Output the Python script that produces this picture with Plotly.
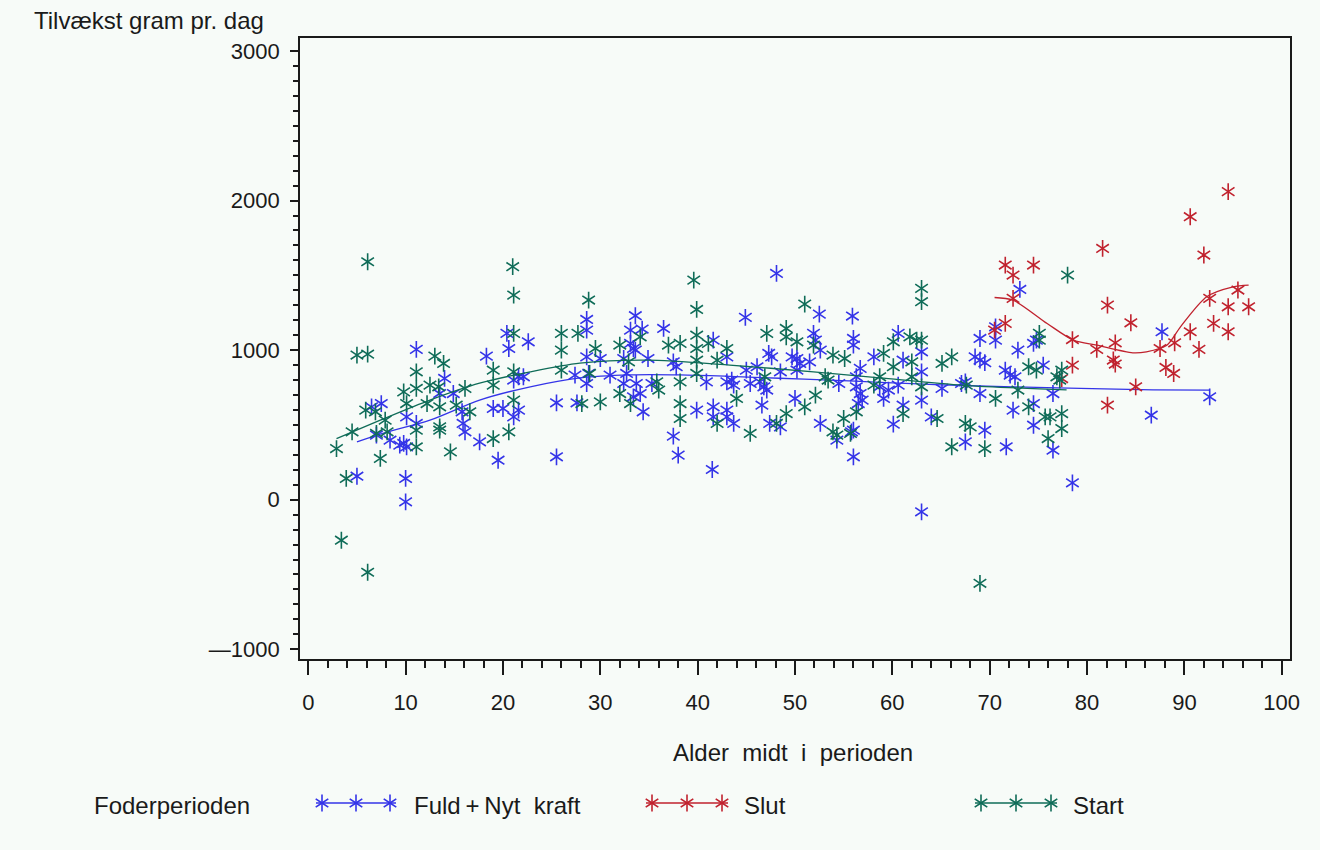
import plotly.graph_objects as go

# ---------------------------------------------------------------------------
# Data: age at mid-period (days) vs. daily weight gain (gram/day), per feed period
# ---------------------------------------------------------------------------
fuld_alder = [
    5.0, 11.1, 10.0, 10.0, 6.5, 7.5, 7.0, 8.4, 9.4, 9.8, 10.1, 10.1, 11.1, 14.0, 13.5,
    14.9, 15.8, 15.9, 16.1, 17.6, 19.5, 18.3, 19.0, 20.0, 21.1, 21.6, 20.6, 20.4, 22.6,
    21.1, 21.6, 22.1, 25.5, 25.5, 27.6, 27.4,
    48.1, 44.9, 52.5, 55.9, 56.0, 56.0, 33.6, 28.6, 28.6, 33.1, 34.3, 36.5, 33.1, 33.4,
    33.6, 32.4, 32.7, 28.6, 28.8, 28.6, 30.0, 31.0, 34.9, 37.5, 37.8, 41.6, 43.0, 43.5,
    45.0, 46.1, 46.4, 46.8, 47.1, 47.3, 47.6, 49.7, 50.2, 50.5, 51.9, 52.1, 52.6, 51.5,
    50.2, 48.5, 45.4, 43.0, 43.7, 40.9, 33.7, 34.1, 33.4, 32.4, 35.3, 34.4, 37.5, 38.0,
    41.5, 39.9, 41.6, 41.6, 43.0, 43.0, 43.7, 46.6, 47.4, 48.5, 50.0, 52.6, 54.5, 56.3,
    56.3, 56.7, 56.9, 56.5, 56.0, 55.8, 56.0, 54.3, 58.1, 56.7,
    73.1, 70.6, 70.6, 69.0, 72.9, 74.5, 74.8, 68.5, 69.0, 69.5, 71.6, 72.1, 72.6, 75.5,
    60.6, 63.0, 63.0, 61.1, 58.7, 59.6, 60.6, 59.1, 61.1, 63.0, 65.1, 67.5, 67.1, 69.0,
    60.1, 64.0, 67.5, 69.5, 71.7, 72.4, 74.5, 74.5, 76.5, 76.5, 78.5, 63.0, 87.7, 86.6,
    92.6,
]
fuld_tilvaekst = [
    157, 1005, 142, -14, 621, 643, 432, 398, 365, 376, 353, 554, 510, 811, 710,
    710, 588, 510, 454, 387, 264, 960, 610, 610, 554, 599, 1011, 1112, 1056,
    800, 822, 822, 648, 287, 648, 833,
    1513, 1219, 1241, 1228, 1078, 1034, 1230, 1205, 1134, 1134, 1141, 1145, 1045, 1011,
    1000, 944, 844, 955, 844, 777, 944, 833, 944, 922, 889, 1067, 955, 800,
    866, 889, 788, 755, 733, 978, 955, 955, 944, 911, 1112, 1067, 1000, 922,
    866, 855, 777, 788, 766, 788, 777, 710, 688, 777, 777, 588, 425, 298,
    202, 599, 621, 554, 599, 554, 510, 632, 510, 487, 677, 510, 777, 822,
    755, 710, 666, 643, 465, 454, 287, 398, 955, 878,
    1406, 1156, 1067, 1078, 1000, 1045, 1067, 955, 933, 916, 866, 833, 822, 900,
    1112, 989, 855, 933, 755, 733, 766, 677, 632, 666, 744, 788, 777, 710,
    505, 554, 387, 465, 354, 599, 643, 498, 710, 331, 113, -81, 1123, 565,
    688,
]

slut_alder = [
    94.5, 90.6, 81.6, 92.0, 71.6, 74.5, 72.4, 72.4, 71.6, 70.5, 82.1, 84.5, 78.5, 78.5,
    81.0, 82.9, 82.7, 82.9, 82.1, 85.0, 87.5, 88.1, 88.9, 89.0, 90.6, 91.5, 92.6, 93.0,
    94.5, 94.5, 95.5, 96.6, 77.4,
]
slut_tilvaekst = [
    2060, 1892, 1680, 1636, 1569, 1569, 1502, 1346, 1179, 1134, 1301, 1183, 1071, 900,
    1005, 1049, 934, 907, 632, 755, 1011, 884, 844, 1049, 1123, 1005, 1346, 1179,
    1290, 1123, 1402, 1290, 810,
]

start_alder = [
    6.1, 5.0, 6.1, 2.9, 3.9, 7.4, 4.5, 5.9, 6.9, 7.9, 7.0, 8.1, 11.1, 11.1, 11.1,
    11.1, 9.8, 10.1, 12.2, 12.5, 13.0, 13.9, 13.4, 13.5, 13.5, 13.5, 14.6, 15.2, 16.1,
    16.6, 19.0, 19.0, 19.0, 20.6, 21.1, 21.1, 21.0, 21.1, 21.1, 26.0, 26.0, 26.0, 27.7,
    3.4, 6.1,
    28.8, 39.6, 39.9, 51.0, 47.1, 49.1, 49.1, 50.2, 51.9, 29.5, 32.0, 34.1, 37.0, 38.2,
    39.9, 39.9, 39.9, 39.9, 41.1, 43.0, 42.0, 44.0, 45.4, 42.0, 38.2, 38.2, 33.1, 32.0,
    30.0, 28.1, 36.0, 35.8, 38.2, 32.9, 28.9, 46.9, 49.1, 48.1, 51.0, 52.1, 53.9, 55.1,
    53.1, 53.4, 55.0, 53.9, 54.3, 55.7, 56.3, 58.1,
    63.0, 63.0, 78.0, 75.1, 75.1, 59.1, 60.1, 61.8, 62.5, 63.0, 62.0, 65.1, 66.1, 60.1,
    58.7, 62.0, 63.0, 67.6, 70.6, 72.9, 74.0, 74.8, 76.9, 77.4, 77.2, 61.1, 64.6, 67.5,
    68.0, 66.1, 69.5, 74.0, 75.7, 76.2, 77.4, 77.4, 76.0, 69.0,
]
start_tilvaekst = [
    1591, 967, 973, 342, 142, 276, 454, 599, 588, 532, 443, 454, 855, 744, 465,
    353, 721, 643, 643, 766, 960, 911, 755, 621, 487, 465, 320, 632, 744,
    588, 866, 766, 409, 454, 1112, 1368, 1558, 855, 666, 1112, 1000, 866, 1112,
    -271, -485,
    1335, 1468, 1272, 1308, 1112, 1145, 1089, 1056, 1034, 1011, 1034, 1089, 1034, 1045,
    1100, 1011, 933, 844, 1045, 1011, 933, 677, 443, 510, 643, 543, 643, 710,
    654, 643, 733, 788, 788, 922, 844, 822, 576, 510, 621, 699, 967, 944,
    822, 800, 543, 454, 432, 443, 588, 766,
    1413, 1324, 1502, 1112, 1067, 978, 1056, 1089, 1067, 1067, 922, 911, 955, 889,
    822, 822, 755, 766, 677, 733, 889, 866, 822, 866, 800, 576, 543, 510,
    487, 354, 342, 621, 554, 554, 576, 476, 409, -559,
]

# Smoothed trend per feed period
fuld_glat_x = [5.0, 8.0, 12.5, 17.6, 22.8, 27.9, 33.0, 38.2, 43.3, 48.4, 53.5, 58.7,
               65.0, 72.4, 79.3, 86.8, 92.6]
fuld_glat_y = [387, 450, 532, 666, 755, 815, 835, 835, 825, 812, 800, 785,
               768, 755, 745, 735, 733]
slut_glat_x = [70.5, 72.4, 75.9, 78.6, 81.0, 84.7, 86.1, 88.2, 89.6, 92.3, 95.0, 96.6]
slut_glat_y = [1352, 1334, 1178, 1067, 1033, 982, 989, 1033, 1156, 1357, 1423, 1435]
start_glat_x = [2.9, 7.4, 12.5, 17.6, 22.8, 27.9, 34.8, 43.3, 51.9, 58.7, 67.3, 77.9]
start_glat_y = [409, 532, 666, 779, 855, 913, 933, 900, 855, 815, 765, 735]

gruppe_navne = ["Fuld+Nyt kraft", "Slut", "Start"]
gruppe_etiketter = {"Fuld+Nyt kraft": "Fuld\u2009+\u2009Nyt\u00a0 kraft", "Slut": "Slut", "Start": "Start"}
x_ticks = [0, 10, 20, 30, 40, 50, 60, 70, 80, 90, 100]
y_ticks = [-1000, 0, 1000, 2000, 3000]
y_ticktext = ["\u20141000", "0", "1000", "2000", "3000"]

# ---------------------------------------------------------------------------
# Styling
# ---------------------------------------------------------------------------
W, H = 1320, 850
BG = "#f7fbf8"
INK = "#1a1a1a"
FONT = "Liberation Sans"
FARVER = {"Fuld+Nyt kraft": "#3434e8", "Slut": "#c0222e", "Start": "#0f6c58"}
STAR_SIZE = 10.5
STAR_W = 1.6
TXT = 24

# plot frame in pixels (left, right, top, bottom)
PL, PR, PT, PB = 300, 1290, 38, 659

fig = go.Figure()


def add_group(x, y, gx, gy, color):
    # six-armed asterisk built from two three-armed symbols
    for sym in ("y-up-open", "y-down-open"):
        fig.add_trace(go.Scatter(
            x=x, y=y, mode="markers", showlegend=False, hoverinfo="skip",
            marker=dict(symbol=sym, size=STAR_SIZE, color=color,
                        line=dict(width=STAR_W, color=color)),
        ))
    fig.add_trace(go.Scatter(
        x=gx, y=gy, mode="lines", showlegend=False, hoverinfo="skip",
        line=dict(color=color, width=1.3, shape="spline", smoothing=0.8),
    ))


add_group(fuld_alder, fuld_tilvaekst, fuld_glat_x, fuld_glat_y, FARVER["Fuld+Nyt kraft"])
add_group(slut_alder, slut_tilvaekst, slut_glat_x, slut_glat_y, FARVER["Slut"])
add_group(start_alder, start_tilvaekst, start_glat_x, start_glat_y, FARVER["Start"])

# ---------------------------------------------------------------------------
# Legend row drawn on a full-figure pixel overlay (x2/y2)
# ---------------------------------------------------------------------------
LEG_Y = 803
LEG_KEYS = {"Fuld+Nyt kraft": (316, 396), "Slut": (646, 728), "Start": (975, 1057)}
LEG_TEXT_X = {"Fuld+Nyt kraft": 412, "Slut": 742, "Start": 1071}

for navn in gruppe_navne:
    x0, x1 = LEG_KEYS[navn]
    c = FARVER[navn]
    fig.add_trace(go.Scatter(
        x=[x0, x1], y=[LEG_Y, LEG_Y], xaxis="x2", yaxis="y2", mode="lines",
        showlegend=False, hoverinfo="skip", line=dict(color=c, width=1.3),
    ))
    xs = [x0 + 6, (x0 + x1) / 2, x1 - 6]
    for sym in ("y-up-open", "y-down-open"):
        fig.add_trace(go.Scatter(
            x=xs, y=[LEG_Y] * 3, xaxis="x2", yaxis="y2", mode="markers",
            showlegend=False, hoverinfo="skip",
            marker=dict(symbol=sym, size=STAR_SIZE, color=c,
                        line=dict(width=STAR_W, color=c)),
        ))

annotations = [
    dict(text="Tilvækst gram pr. dag", x=32 / W, y=1 - 21 / H, xref="paper", yref="paper",
         xanchor="left", yanchor="middle", showarrow=False,
         font=dict(family=FONT, size=TXT, color=INK)),
    dict(text="Alder\u00a0 midt\u00a0 i\u00a0 perioden", x=793 / W, y=1 - 752 / H,
         xref="paper", yref="paper",
         xanchor="center", yanchor="middle", showarrow=False,
         font=dict(family=FONT, size=TXT, color=INK)),
    dict(text="Foderperioden", x=92 / W, y=1 - 805 / H, xref="paper", yref="paper",
         xanchor="left", yanchor="middle", showarrow=False,
         font=dict(family=FONT, size=TXT, color=INK)),
]
for navn in gruppe_navne:
    annotations.append(dict(
        text=gruppe_etiketter[navn], x=LEG_TEXT_X[navn] / W, y=1 - 805 / H,
        xref="paper", yref="paper",
        xanchor="left", yanchor="middle", showarrow=False,
        font=dict(family=FONT, size=TXT, color=INK)))

fig.update_layout(
    width=W, height=H, autosize=False,
    margin=dict(l=0, r=0, t=0, b=0),
    paper_bgcolor=BG, plot_bgcolor="rgba(0,0,0,0)",
    showlegend=False,
    annotations=annotations,
    xaxis=dict(
        domain=[PL / W, PR / W], anchor="y", automargin=False,
        range=[-0.85, 100.85], tickmode="array", tickvals=x_ticks,
        ticks="outside", ticklen=14, tickwidth=1.6, tickcolor=INK,
        minor=dict(dtick=2, tick0=0, ticks="outside", ticklen=7, tickwidth=1.6, tickcolor=INK),
        showgrid=False, zeroline=False,
        showline=True, linecolor=INK, linewidth=1.6, mirror=True,
        ticklabelstandoff=9,
        tickfont=dict(family=FONT, size=22, color=INK),
    ),
    yaxis=dict(
        domain=[1 - PB / H, 1 - PT / H], anchor="x", automargin=False,
        range=[-1065, 3087], tickmode="array", tickvals=y_ticks, ticktext=y_ticktext,
        ticks="outside", ticklen=8, tickwidth=1.6, tickcolor=INK,
        minor=dict(dtick=100, tick0=0, ticks="outside", ticklen=5, tickwidth=1.6, tickcolor=INK),
        showgrid=False, zeroline=False,
        showline=True, linecolor=INK, linewidth=1.6, mirror=True,
        ticklabelstandoff=6,
        tickfont=dict(family=FONT, size=22, color=INK),
    ),
    xaxis2=dict(domain=[0, 1], anchor="y2", range=[0, W], visible=False, fixedrange=True,
                automargin=False),
    yaxis2=dict(domain=[0, 1], anchor="x2", range=[H, 0], visible=False, fixedrange=True,
                automargin=False),
)

page_css = "document.body.style.margin='0';document.body.style.overflow='hidden';"

fig.write_html("out.html", config={"responsive": False}, post_script=page_css)
